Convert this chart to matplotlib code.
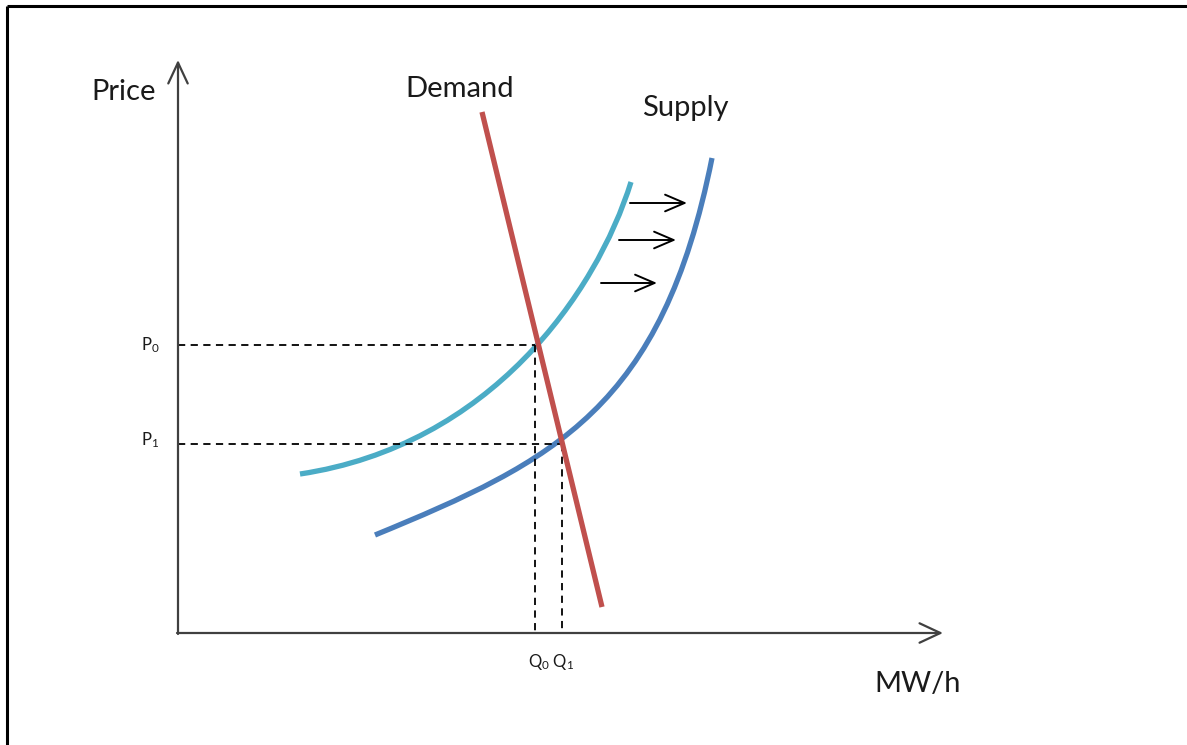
import matplotlib
matplotlib.use("Agg")
import matplotlib.pyplot as plt
from matplotlib.path import Path
from matplotlib.patches import PathPatch

plt.rcParams['font.family'] = ['Lato', 'DejaVu Sans']
plt.rcParams['mathtext.fontset'] = 'custom'
plt.rcParams['mathtext.rm'] = 'Lato'
plt.rcParams['mathtext.it'] = 'Lato'

# ---- data (diagram coordinates, pixel-like units, y grows downward) ----
demand_x = [482, 602]
demand_y = [112, 607]

# supply curves as cubic Bezier: start, control 1, control 2, end
supply0_x = [300, 490, 596, 631]
supply0_y = [474, 445.5, 294, 182]

supply1_x = [375, 555, 662, 712]
supply1_y = [535, 461, 408, 158]

eq_price_y = [345, 444]        # P0, P1 levels
eq_qty_x = [535, 562]          # Q0, Q1 levels
price_labels = ['P$_0$', 'P$_1$']
qty_label = 'Q$_0$ Q$_1$'

shift_start_x = [630, 619, 601]
shift_end_x = [687, 676, 657]
shift_y = [203, 240, 283]

origin = (178, 633)
x_axis_end = 943
y_axis_end = 60

fig = plt.figure(figsize=(11.87, 7.45), dpi=100)
ax = fig.add_axes([0, 0, 1, 1])
ax.set_xlim(0, 1187)
ax.set_ylim(745, 0)
ax.axis('off')

# outer border (top and left)
ax.plot([7, 1187], [6, 6], color='black', lw=2.2, solid_capstyle='butt')
ax.plot([7, 7], [6, 745], color='black', lw=2.2, solid_capstyle='butt')

axis_col = '#404040'
head = '->,head_length=1.5,head_width=0.7'
ax.annotate('', xy=(x_axis_end, origin[1]), xytext=(origin[0] - 1, origin[1]),
            arrowprops=dict(arrowstyle=head, color=axis_col, lw=1.6,
                            shrinkA=0, shrinkB=0))
ax.annotate('', xy=(origin[0], y_axis_end), xytext=(origin[0], origin[1] + 1),
            arrowprops=dict(arrowstyle=head, color=axis_col, lw=1.6,
                            shrinkA=0, shrinkB=0))

# dashed guide lines
dash = dict(color='black', lw=1.3, ls=(0, (4, 3)))
ax.plot([origin[0], eq_qty_x[0]], [eq_price_y[0], eq_price_y[0]], **dash)
ax.plot([eq_qty_x[0], eq_qty_x[0]], [eq_price_y[0], origin[1]], **dash)
ax.plot([origin[0], eq_qty_x[1]], [eq_price_y[1], eq_price_y[1]], **dash)
ax.plot([eq_qty_x[1], eq_qty_x[1]], [eq_price_y[1], origin[1]], **dash)

# curves
codes = [Path.MOVETO, Path.CURVE4, Path.CURVE4, Path.CURVE4]
for xs, ys, col in [(supply0_x, supply0_y, '#4BACC6'),
                    (supply1_x, supply1_y, '#4A7EBB')]:
    path = Path(list(zip(xs, ys)), codes)
    ax.add_patch(PathPatch(path, facecolor='none', edgecolor=col, lw=3.8,
                           capstyle='butt'))
ax.plot(demand_x, demand_y, color='#C0504D', lw=3.8, solid_capstyle='butt')

# shift arrows
for x0, x1, y in zip(shift_start_x, shift_end_x, shift_y):
    ax.annotate('', xy=(x1, y), xytext=(x0, y),
                arrowprops=dict(arrowstyle='->,head_length=1.4,head_width=0.6',
                                color='black', lw=1.4, shrinkA=0, shrinkB=0))

# text
tc = '#1a1a1a'
ax.text(124, 92, 'Price', fontsize=21, ha='center', va='center', color=tc)
ax.text(460, 89, 'Demand', fontsize=21, ha='center', va='center', color=tc)
ax.text(685, 108, 'Supply', fontsize=21, ha='center', va='center', color=tc)
ax.text(918, 684, 'MW/h', fontsize=21, ha='center', va='center', color=tc)
ax.text(150, 345, price_labels[0], fontsize=12, ha='center', va='center', color=tc)
ax.text(150, 440, price_labels[1], fontsize=12, ha='center', va='center', color=tc)
ax.text(551, 662, qty_label, fontsize=12, ha='center', va='center', color=tc)

fig.savefig('out.png', dpi=100)
